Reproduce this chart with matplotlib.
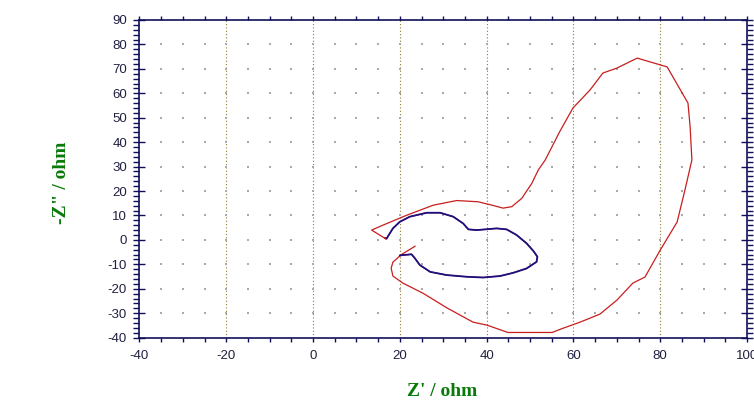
import numpy as np
import matplotlib
matplotlib.use('Agg')
import matplotlib.pyplot as plt
from matplotlib.ticker import MultipleLocator

# Nyquist: Z' contra -Z''
plt.rcParams['axes.unicode_minus'] = False

# curva roja completa
z_re_red = [23.5, 20.0, 20.8, 22.7, 23.5, 24.6, 27.0, 30.8, 35.4, 39.2, 43.1, 46.1,
            49.2, 51.5, 51.7, 50.8, 49.2, 46.9, 44.6, 42.3, 37.7, 35.8, 34.6, 32.3,
            29.3, 26.2, 22.3, 20.0, 18.4, 17.0, 16.4, 16.9, 13.5, 16.2, 21.6, 27.7,
            33.1, 38.0, 40.8, 43.8, 45.8, 48.1, 50.4, 51.9, 53.5, 56.9, 59.9, 63.8,
            66.8, 70.0, 74.7, 81.6, 86.4, 86.9, 87.3, 85.7, 83.9, 80.0, 76.5, 73.7,
            70.0, 66.1, 61.5, 57.4, 55.1, 44.9, 40.1, 36.9, 30.9, 25.3, 20.7, 18.4,
            18.0, 18.4, 20.0]
z_im_red = [-2.6, -6.4, -6.2, -5.9, -7.6, -10.3, -13.1, -14.4, -15.1, -15.4, -14.8, -13.5,
            -11.7, -9.0, -6.9, -4.6, -1.4, 2.0, 4.3, 4.7, 4.0, 4.3, 6.7, 9.5,
            11.1, 11.1, 9.5, 7.4, 4.7, 0.7, 0.9, 0.3, 4.0, 6.1, 10.1, 14.2,
            16.1, 15.6, 14.4, 13.0, 13.6, 17.0, 23.1, 28.6, 32.7, 44.5, 54.0, 61.3,
            68.3, 70.3, 74.4, 70.8, 56.0, 46.2, 32.7, 20.4, 7.3, -4.2, -15.2, -17.7,
            -24.7, -30.4, -33.7, -36.3, -37.9, -37.9, -34.9, -33.7, -27.9, -21.8, -17.7, -14.8,
            -11.6, -9.1, -6.6]

# curva azul (bucle interior)
z_re_blue = [20.0, 20.8, 22.7, 23.5, 24.6, 27.0, 30.8, 35.4, 39.2, 43.1, 46.1, 49.2,
             51.5, 51.7, 50.8, 49.2, 46.9, 44.6, 42.3, 37.7, 35.8, 34.6, 32.3, 29.3,
             26.2, 22.3, 20.0, 18.4, 17.0]
z_im_blue = [-6.4, -6.2, -5.9, -7.6, -10.3, -13.1, -14.4, -15.1, -15.4, -14.8, -13.5, -11.7,
             -9.0, -6.9, -4.6, -1.4, 2.0, 4.3, 4.7, 4.0, 4.3, 6.7, 9.5, 11.1,
             11.1, 9.5, 7.4, 4.7, 0.7]

navy = '#10105a'
verde = '#0a7a0a'

fig = plt.figure(figsize=(7.54, 4.0), dpi=100)
ax = fig.add_axes([0.185, 0.156, 0.8057, 0.794])

ax.set_xlim(-40, 100)
ax.set_ylim(-40, 90)

# rejilla: lineas punteadas verticales y puntos grises
for xv in np.arange(-20, 100, 20):
    ax.axvline(xv, color='#8a7a30', linestyle=(0, (1, 2)), linewidth=0.8, zorder=1)
gx, gy = np.meshgrid(np.arange(-35, 100, 5), np.arange(-30, 90, 10))
ax.scatter(gx.ravel(), gy.ravel(), s=1.2, color='#aaaaaa', marker='s', linewidths=0, zorder=1)

ax.plot(z_re_red, z_im_red, color='#c81e1e', linewidth=0.9, zorder=3)
ax.plot(z_re_blue, z_im_blue, color='#1c1080', linewidth=1.3, zorder=4)

ax.xaxis.set_major_locator(MultipleLocator(20))
ax.xaxis.set_minor_locator(MultipleLocator(5))
ax.yaxis.set_major_locator(MultipleLocator(10))
ax.yaxis.set_minor_locator(MultipleLocator(2))

ax.tick_params(axis='x', which='both', direction='out', length=3, width=1, color=navy,
               top=True, labelsize=9.5, labelcolor='#202040', pad=6)
ax.tick_params(axis='y', which='major', direction='inout', length=8, width=1, color=navy,
               right=True, labelsize=9.5, labelcolor='#202040', pad=5)
ax.tick_params(axis='y', which='minor', direction='out', length=4, width=1, color=navy,
               right=True)

for lbl in ax.get_xticklabels() + ax.get_yticklabels():
    lbl.set_fontfamily('Liberation Sans')

for sp in ax.spines.values():
    sp.set_color(navy)
    sp.set_linewidth(1.2)

ax.set_xlabel("Z' / ohm", fontfamily='Liberation Serif', fontweight='bold',
              fontsize=14, color=verde, va='center')
ax.set_ylabel('-Z" / ohm', fontfamily='Liberation Serif', fontweight='bold',
              fontsize=14, color=verde, va='center')
ax.xaxis.set_label_coords(0.498, -0.1685)
ax.yaxis.set_label_coords(-0.1276, 0.487)

plt.savefig('out.png', dpi=100)
plt.close()
